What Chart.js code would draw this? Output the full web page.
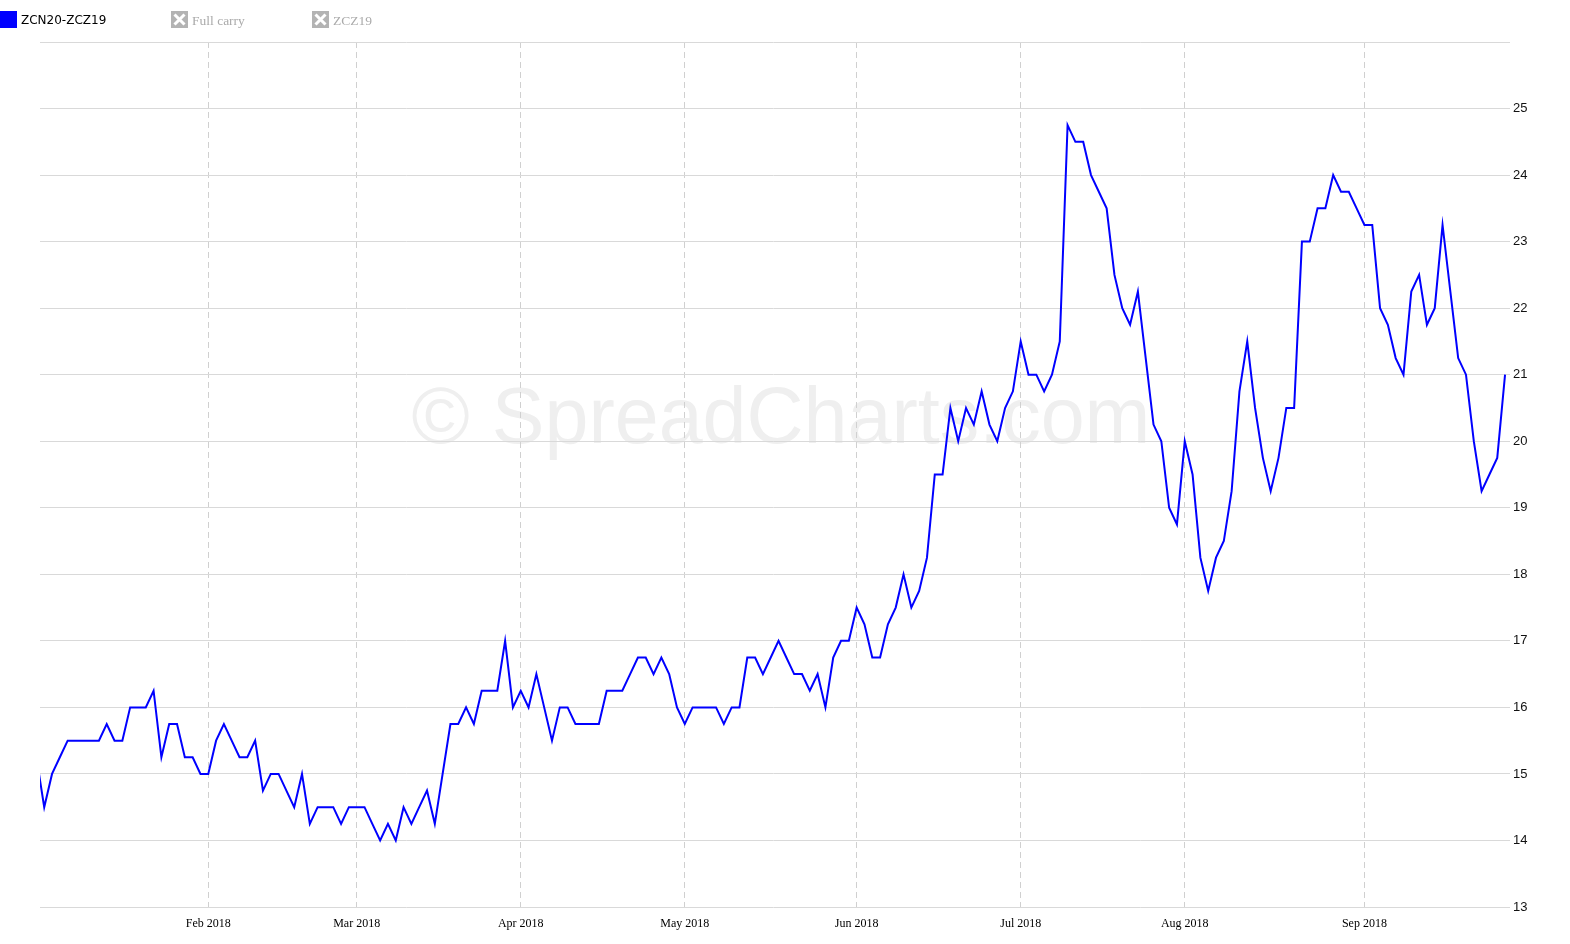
<!DOCTYPE html>
<html>
<head>
<meta charset="utf-8">
<script src="https://cdn.jsdelivr.net/npm/chart.js@4.4.1/dist/chart.umd.min.js"></script>
<style>
html,body{margin:0;padding:0;background:#fff;}
#wrap{position:relative;width:1570px;height:944px;overflow:hidden;}
#c{position:absolute;left:0;top:0;}
.leg{position:absolute;top:11px;height:17px;display:flex;align-items:center;white-space:nowrap;}
.sw{width:17px;height:17px;margin-right:4px;flex:none;display:block;}
</style>
</head>
<body>
<div id="wrap">
<canvas id="c" width="1570" height="944"></canvas>
<div id="legend"></div>
</div>
<script>
// ---- data ----
const seriesNames = ["ZCN20-ZCZ19", "Full carry", "ZCZ19"];
const seriesHidden = [false, true, true];
const seriesColors = ["#0000ff", "#b3b3b3", "#b3b3b3"];

// trading days: 2017-12-29 .. 2018-09-28 (CME holidays removed)
const firstDay = "2017-12-29";
const lastDay = "2018-09-28";
const holidays = ["2018-01-01","2018-01-15","2018-02-19","2018-03-30","2018-05-28","2018-07-04","2018-09-03"];

const spread = [
  15.25, 14.5, 15, 15.25, 15.5, 15.5, 15.5, 15.5, 15.5, 15.75,
  15.5, 15.5, 16, 16, 16, 16.25, 15.25, 15.75, 15.75, 15.25,
  15.25, 15, 15, 15.5, 15.75, 15.5, 15.25, 15.25, 15.5, 14.75,
  15, 15, 14.75, 14.5, 15, 14.25, 14.5, 14.5, 14.5, 14.25,
  14.5, 14.5, 14.5, 14.25, 14, 14.25, 14, 14.5, 14.25, 14.5,
  14.75, 14.25, 15, 15.75, 15.75, 16, 15.75, 16.25, 16.25, 16.25,
  17, 16, 16.25, 16, 16.5, 16, 15.5, 16, 16, 15.75,
  15.75, 15.75, 15.75, 16.25, 16.25, 16.25, 16.5, 16.75, 16.75, 16.5,
  16.75, 16.5, 16, 15.75, 16, 16, 16, 16, 15.75, 16,
  16, 16.75, 16.75, 16.5, 16.75, 17, 16.75, 16.5, 16.5, 16.25,
  16.5, 16, 16.75, 17, 17, 17.5, 17.25, 16.75, 16.75, 17.25,
  17.5, 18, 17.5, 17.75, 18.25, 19.5, 19.5, 20.5, 20, 20.5,
  20.25, 20.75, 20.25, 20, 20.5, 20.75, 21.5, 21, 21, 20.75,
  21, 21.5, 24.75, 24.5, 24.5, 24, 23.75, 23.5, 22.5, 22,
  21.75, 22.25, 21.25, 20.25, 20, 19, 18.75, 20, 19.5, 18.25,
  17.75, 18.25, 18.5, 19.25, 20.75, 21.5, 20.5, 19.75, 19.25, 19.75,
  20.5, 20.5, 23, 23, 23.5, 23.5, 24, 23.75, 23.75, 23.5,
  23.25, 23.25, 22, 21.75, 21.25, 21, 22.25, 22.5, 21.75, 22,
  23.25, 22.25, 21.25, 21, 20, 19.25, 19.5, 19.75, 21
];

const monthTickLabels = ["Feb 2018","Mar 2018","Apr 2018","May 2018","Jun 2018","Jul 2018","Aug 2018","Sep 2018"];
const yTickValues = [13,14,15,16,17,18,19,20,21,22,23,24,25];
const watermarkText = "© SpreadCharts.com";

// ---- build categories (trading dates) ----
function buildDates(){
  const out = [];
  const d = new Date(firstDay + "T00:00:00Z");
  const end = new Date(lastDay + "T00:00:00Z");
  while (d <= end){
    const s = d.toISOString().slice(0,10);
    const wd = d.getUTCDay();
    if (wd !== 0 && wd !== 6 && holidays.indexOf(s) < 0) out.push(s);
    d.setUTCDate(d.getUTCDate()+1);
  }
  return out;
}
const dates = buildDates();
// first trading day index of each month (after January)
const monthIdx = [];
for (let i = 1; i < dates.length; i++){
  if (dates[i].slice(0,7) !== dates[i-1].slice(0,7) && dates[i].slice(0,7) !== "2018-01") monthIdx.push(i);
}

// ---- legend (HTML) ----
const legendEl = document.getElementById('legend');
const legendLeft = [0, 171, 312];
seriesNames.forEach((name, k) => {
  const item = document.createElement('div');
  item.className = 'leg';
  item.style.left = legendLeft[k] + 'px';
  let sw;
  if (!seriesHidden[k]) {
    sw = '<span class="sw" style="background:' + seriesColors[k] + '"></span>';
  } else {
    sw = '<svg class="sw" width="17" height="17" viewBox="0 0 17 17"><rect width="17" height="17" fill="' + seriesColors[k] + '"/>' +
         '<path d="M3.5 3.5 L13.5 13.5 M13.5 3.5 L3.5 13.5" stroke="#fff" stroke-width="3"/></svg>';
  }
  const font = seriesHidden[k] ? "13.5px 'Liberation Serif'" : "12px 'DejaVu Sans'";
  const col = seriesHidden[k] ? "#aaaaaa" : "#000";
  item.innerHTML = sw + '<span style="font:' + font + ';color:' + col + ';line-height:17px;padding-top:1px">' + name + '</span>';
  legendEl.appendChild(item);
});

// ---- watermark ----
const watermark = {
  id: 'wm',
  beforeDraw(c){
    const g = c.ctx;
    g.save();
    g.font = '79px "Liberation Sans"';
    g.fillStyle = '#efefef';
    g.textAlign = 'center';
    g.textBaseline = 'alphabetic';
    g.fillText(watermarkText, 781, 443);
    g.restore();
  }
};

new Chart(document.getElementById('c'), {
  type: 'line',
  data: {
    datasets: [{
      label: seriesNames[0],
      data: spread.map((v, i) => ({x: i, y: v})),
      borderColor: seriesColors[0],
      backgroundColor: seriesColors[0],
      borderWidth: 2,
      pointRadius: 0,
      tension: 0,
      fill: false
    }]
  },
  options: {
    responsive: false,
    animation: false,
    devicePixelRatio: 1,
    layout: {padding: {left: 40, top: 42, right: 0, bottom: 0}},
    plugins: {legend: {display: false}, tooltip: {enabled: false}},
    scales: {
      x: {
        type: 'linear',
        min: 0.46,
        max: 188.25,
        afterBuildTicks: s => { s.ticks = monthIdx.map(v => ({value: v})); },
        afterFit: s => { s.height = 37; },
        ticks: {
          autoSkip: false,
          maxRotation: 0,
          callback: (v) => monthTickLabels[monthIdx.indexOf(v)],
          font: {family: 'Liberation Serif', size: 12},
          color: '#000',
          padding: 10
        },
        grid: {color: '#d0d0d0', drawTicks: false, lineWidth: 1},
        border: {display: false, dash: [6, 4]}
      },
      y: {
        position: 'right',
        min: 13,
        max: 26,
        afterBuildTicks: s => { s.ticks = yTickValues.concat([26]).map(v => ({value: v})); },
        afterFit: s => { s.width = 63; },
        ticks: {
          callback: v => (yTickValues.indexOf(v) >= 0 ? String(v) : ''),
          font: {family: "'Liberation Sans Narrow', 'Liberation Sans'", size: 13},
          color: '#111',
          padding: 3
        },
        grid: {color: '#d9d9d9', tickLength: 3, lineWidth: 1},
        border: {display: false}
      }
    }
  },
  plugins: [watermark]
});
</script>
</body>
</html>
